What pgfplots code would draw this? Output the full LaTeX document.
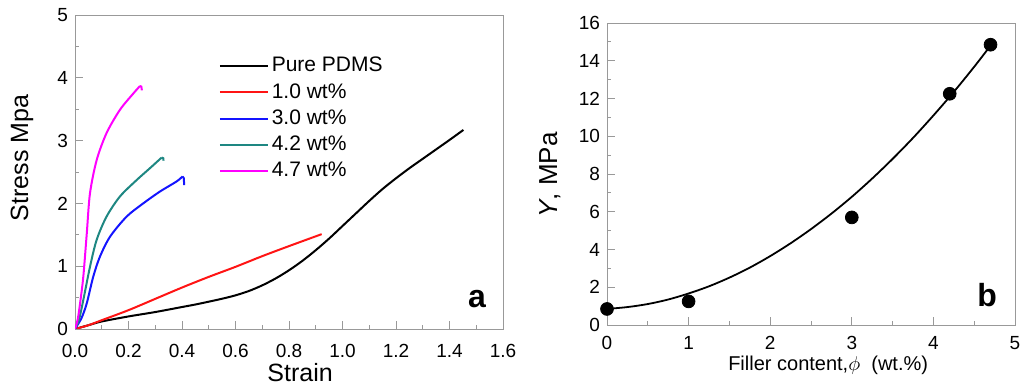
\documentclass[border=0pt]{standalone}
\usepackage{fontspec}
\setmainfont{Liberation Sans}
\usepackage{pgfplots}
\pgfplotsset{compat=1.18}
\definecolor{cteal}{RGB}{30,135,130}
\definecolor{cmag}{RGB}{255,0,255}
\definecolor{cred}{RGB}{255,20,20}
\definecolor{cblue}{RGB}{20,20,255}
\begin{document}
\begin{tikzpicture}
\useasboundingbox (0,0) rectangle (516.5pt,195pt);
\pgfplotsset{
  every axis/.append style={
    scale only axis,
    axis line style={gray!80},
    tick style={gray!80, thin},
    tick align=inside,
    xtick pos=bottom, ytick pos=left,
    major tick length=4pt, minor tick length=2pt,
    /pgf/number format/assume math mode=true,
    tick label style={font=\fontsize{9.5}{11}\selectfont},
  }
}
% ---------- panel a ----------
\begin{axis}[
  at={(37.5pt,30.5pt)}, anchor=south west,
  width=214pt, height=157pt,
  xmin=0, xmax=1.6, ymin=0, ymax=5,
  xtick={0,0.2,0.4,0.6,0.8,1.0,1.2,1.4,1.6},
  ytick={0,1,2,3,4,5},
  minor x tick num=1, minor y tick num=1,
  xticklabel style={yshift=-4pt, /pgf/number format/.cd, fixed, fixed zerofill, precision=1},
  yticklabel style={/pgf/number format/.cd, fixed, precision=0},
  xlabel={Strain}, ylabel={Stress Mpa},
  xlabel style={font=\fontsize{12.5}{14}\selectfont, at={(axis description cs:0.526,-0.14)}, anchor=center},
  ylabel style={font=\fontsize{12.5}{14}\selectfont, at={(axis description cs:-0.124,0.545)}, anchor=center},
  legend style={draw=none, fill=none, at={(axis description cs:0.335,0.876)}, anchor=north west,
    font=\fontsize{10.5}{12}\selectfont, row sep=1.3pt, inner sep=0pt,
    nodes={inner sep=1.5pt}},
  legend cell align=left,
  legend image code/.code={\draw[#1] (0pt,0pt) -- (24pt,0pt);},
  every axis plot/.append style={line width=1pt},
]
\addplot[black, smooth] coordinates {(0,0) (0.05,0.06) (0.1,0.12) (0.2,0.2) (0.3,0.27) (0.4,0.35) (0.45,0.39) (0.5,0.435) (0.55,0.482) (0.6,0.536) (0.65,0.605) (0.7,0.695) (0.75,0.805) (0.8,0.935) (0.85,1.085) (0.9,1.255) (0.95,1.44) (1.0,1.64) (1.05,1.84) (1.1,2.04) (1.15,2.23) (1.2,2.4) (1.25,2.56) (1.3,2.71) (1.35,2.86) (1.4,3.01) (1.452,3.17)};
\addlegendentry{Pure PDMS}
\addplot[cred, smooth] coordinates {(0,0) (0.05,0.06) (0.1,0.14) (0.2,0.3) (0.3,0.48) (0.4,0.66) (0.5,0.83) (0.6,0.99) (0.7,1.16) (0.8,1.32) (0.922,1.51)};
\addlegendentry{1.0 wt\%}
\addplot[cblue, smooth] coordinates {(0,0) (0.006,0.04) (0.025,0.18) (0.044,0.41) (0.068,0.83) (0.093,1.15) (0.131,1.47) (0.193,1.79) (0.255,2.0) (0.318,2.19) (0.38,2.35) (0.402,2.43)};
\addlegendentry{3.0 wt\%}
\addplot[cteal, smooth] coordinates {(0,0) (0.015,0.15) (0.031,0.46) (0.056,0.99) (0.081,1.42) (0.118,1.79) (0.168,2.11) (0.23,2.37) (0.28,2.56) (0.324,2.73)};
\addlegendentry{4.2 wt\%}
\addplot[cmag, smooth] coordinates {(0,0) (0.01,0.15) (0.019,0.41) (0.031,0.83) (0.044,1.52) (0.056,2.16) (0.081,2.69) (0.118,3.12) (0.168,3.49) (0.218,3.75) (0.243,3.87)};
\addlegendentry{4.7 wt\%}
\addplot[cblue, forget plot] coordinates {(0.402,2.43) (0.407,2.4) (0.408,2.29)};
\addplot[cteal, forget plot] coordinates {(0.324,2.73) (0.33,2.72) (0.331,2.68)};
\addplot[cmag, forget plot] coordinates {(0.243,3.87) (0.248,3.86) (0.25,3.8)};
\node[font=\bfseries\fontsize{16}{16}\selectfont, anchor=base east] at ([xshift=-5pt,yshift=10.5pt]rel axis cs:1,0) {a};
\end{axis}
% ---------- panel b ----------
\begin{axis}[
  at={(303.5pt,32.5pt)}, anchor=south west,
  width=204pt, height=151pt,
  xmin=0, xmax=5, ymin=0, ymax=16,
  xtick={0,1,2,3,4,5},
  ytick={0,2,4,6,8,10,12,14,16},
  minor x tick num=1, minor y tick num=1,
  xticklabel style={yshift=-2pt},
  xlabel={Filler content,$\phi$\ \ (wt.\%)}, ylabel={\textit{Y}, MPa},
  xlabel style={font=\fontsize{10}{12}\selectfont, at={(axis description cs:0.542,-0.132)}, anchor=center},
  ylabel style={font=\fontsize{13}{14}\selectfont, at={(axis description cs:-0.14,0.497)}, anchor=center},
]
\addplot[black, line width=0.9pt, smooth] coordinates {(0,0.85) (0.25,0.95) (0.5,1.11) (0.75,1.35) (1,1.67) (1.25,2.05) (1.5,2.51) (1.75,3.04) (2,3.65) (2.25,4.33) (2.5,5.08) (2.75,5.9) (3,6.79) (3.25,7.76) (3.5,8.8) (3.75,9.91) (4,11.1) (4.25,12.35) (4.5,13.68) (4.7,14.8)};
\addplot[black, only marks, mark=*, mark size=3.2pt] coordinates {(0,0.85) (1,1.25) (3,5.7) (4.2,12.25) (4.7,14.85)};
\node[font=\bfseries\fontsize{16}{16}\selectfont, anchor=base east] at ([xshift=-5.5pt,yshift=9pt]rel axis cs:1,0) {b};
\end{axis}
\end{tikzpicture}
\end{document}
